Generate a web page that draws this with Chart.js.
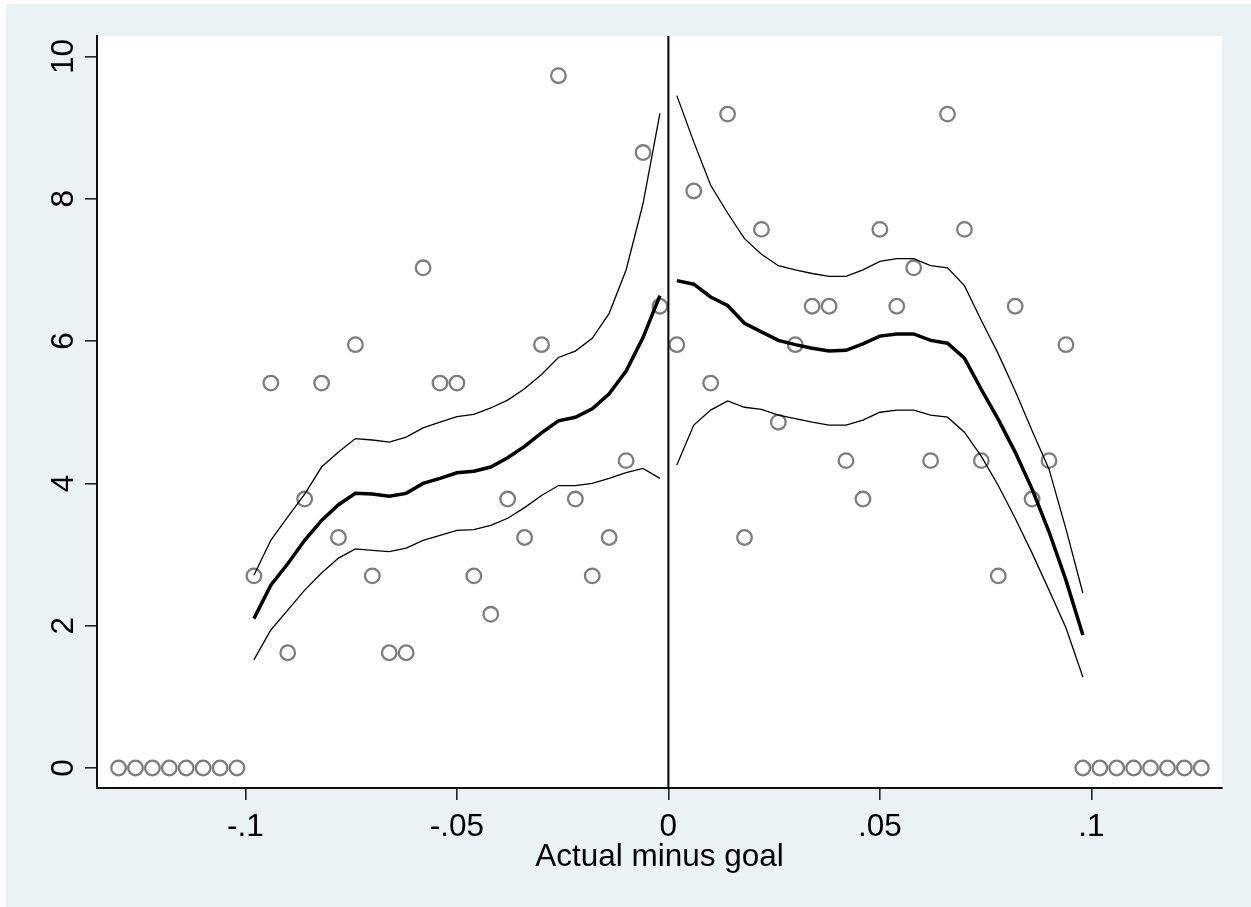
<!DOCTYPE html>
<html>
<head>
<meta charset="utf-8">
<script src="https://cdn.jsdelivr.net/npm/chart.js@4.4.1/dist/chart.umd.min.js"></script>
<style>
html,body{margin:0;padding:0;background:#ffffff;}
canvas{display:block;}
</style>
</head>
<body>
<canvas id="c" width="1251" height="907"></canvas>
<script>
// ---- data ----
const scatterLeftX = [-0.098,-0.094,-0.090,-0.086,-0.082,-0.078,-0.074,-0.070,-0.066,-0.062,-0.058,-0.054,-0.050,-0.046,-0.042,-0.038,-0.034,-0.030,-0.026,-0.022,-0.018,-0.014,-0.010,-0.006,-0.002];
const scatterLeftY = [2.70,5.41,1.62,3.78,5.41,3.24,5.95,2.70,1.62,1.62,7.03,5.41,5.41,2.70,2.16,3.78,3.24,5.95,9.73,3.78,2.70,3.24,4.32,8.65,6.49];
const scatterRightX = [0.002,0.006,0.010,0.014,0.018,0.022,0.026,0.030,0.034,0.038,0.042,0.046,0.050,0.054,0.058,0.062,0.066,0.070,0.074,0.078,0.082,0.086,0.090,0.094];
const scatterRightY = [5.95,8.11,5.41,9.19,3.24,7.57,4.86,5.95,6.49,6.49,4.32,3.78,7.57,6.49,7.03,4.32,9.19,7.57,4.32,2.70,6.49,3.78,4.32,5.95];
const zeroLeftX = [-0.130,-0.126,-0.122,-0.118,-0.114,-0.110,-0.106,-0.102];
const zeroLeftY = [0,0,0,0,0,0,0,0];
const zeroRightX = [0.098,0.102,0.106,0.110,0.114,0.118,0.122,0.126];
const zeroRightY = [0,0,0,0,0,0,0,0];

const fitLeftX = [-0.098,-0.094,-0.090,-0.086,-0.082,-0.078,-0.074,-0.070,-0.066,-0.062,-0.058,-0.054,-0.050,-0.046,-0.042,-0.038,-0.034,-0.030,-0.026,-0.022,-0.018,-0.014,-0.010,-0.006,-0.002];
const fitLeftMean  = [2.10,2.57,2.87,3.20,3.48,3.70,3.86,3.85,3.82,3.86,4.00,4.07,4.15,4.17,4.23,4.36,4.52,4.71,4.88,4.93,5.05,5.26,5.58,6.05,6.64];
const fitLeftUpper = [2.71,3.20,3.53,3.85,4.23,4.44,4.63,4.61,4.58,4.65,4.78,4.86,4.94,4.97,5.06,5.17,5.33,5.53,5.77,5.86,6.04,6.39,7.00,7.93,9.20];
const fitLeftLower = [1.52,1.94,2.22,2.50,2.74,2.95,3.08,3.06,3.04,3.09,3.20,3.27,3.34,3.35,3.41,3.51,3.66,3.83,3.97,3.97,4.00,4.07,4.15,4.21,4.07];

const fitRightX = [0.002,0.006,0.010,0.014,0.018,0.022,0.026,0.030,0.034,0.038,0.042,0.046,0.050,0.054,0.058,0.062,0.066,0.070,0.074,0.078,0.082,0.086,0.090,0.094,0.098];
const fitRightMean  = [6.85,6.80,6.62,6.50,6.25,6.13,6.01,5.95,5.90,5.86,5.87,5.96,6.07,6.10,6.10,6.01,5.97,5.76,5.32,4.90,4.44,3.92,3.32,2.64,1.87];
const fitRightUpper = [9.45,8.80,8.19,7.80,7.44,7.22,7.06,7.00,6.95,6.91,6.91,7.00,7.12,7.16,7.16,7.06,7.03,6.78,6.29,5.82,5.30,4.74,4.20,3.36,2.46];
const fitRightLower = [4.26,4.82,5.03,5.16,5.07,5.04,4.96,4.91,4.86,4.82,4.82,4.89,5.00,5.03,5.03,4.96,4.93,4.72,4.38,3.97,3.51,3.02,2.50,1.97,1.28];

const xTickValues = [-0.1,-0.05,0,0.05,0.1];
const xTickLabels = ['-.1','-.05','0','.05','.1'];
const yTickValues = [0,2,4,6,8,10];
const yTickLabels = ['0','2','4','6','8','10'];
const xTitle = 'Actual minus goal';

// ---- helpers ----
const pts = (xs, ys) => xs.map((x, i) => ({x: x, y: ys[i]}));
const FONT = '"Liberation Sans", Arial, Helvetica, sans-serif';
const FSIZE = 31.5;

const lineDs = (xs, ys, w) => ({
  type: 'line', data: pts(xs, ys), borderColor: '#000000', borderWidth: w,
  pointRadius: 0, fill: false, tension: 0, order: 1
});
const markerDs = (xs, ys) => ({
  type: 'scatter', data: pts(xs, ys), pointStyle: 'circle', pointRadius: 7.3,
  pointBorderWidth: 2.3, pointBorderColor: 'rgb(125,125,125)', pointBackgroundColor: 'rgba(0,0,0,0)',
  order: 5
});

const bgPlugin = {
  id: 'bg',
  beforeDraw(chart) {
    const ctx = chart.ctx, a = chart.chartArea;
    ctx.save();
    ctx.fillStyle = '#ffffff';
    ctx.fillRect(0, 0, chart.width, chart.height);
    ctx.fillStyle = 'rgb(234,242,243)';
    ctx.fillRect(6, 4, chart.width - 6, chart.height - 4);
    ctx.fillStyle = '#ffffff';
    ctx.fillRect(a.left, a.top, a.right - a.left, a.bottom - a.top);
    ctx.restore();
  },
  afterDatasetsDraw(chart) {
    const ctx = chart.ctx, a = chart.chartArea;
    const x0 = chart.scales.x.getPixelForValue(0);
    ctx.save();
    ctx.strokeStyle = '#000000';
    ctx.lineWidth = 2;
    ctx.beginPath();
    ctx.moveTo(x0, a.top);
    ctx.lineTo(x0, a.bottom);
    ctx.stroke();
    ctx.restore();
  },
  afterDraw(chart) {
    const ctx = chart.ctx;
    const ys = chart.scales.y;
    ctx.save();
    ctx.fillStyle = '#000000';
    ctx.font = FSIZE + 'px ' + FONT;
    ctx.textAlign = 'center';
    ctx.textBaseline = 'alphabetic';
    yTickValues.forEach((v, i) => {
      const py = ys.getPixelForValue(v);
      ctx.save();
      ctx.translate(73, py);
      ctx.rotate(-Math.PI / 2);
      ctx.fillText(yTickLabels[i], 0, 0);
      ctx.restore();
    });
    ctx.restore();
  }
};

new Chart(document.getElementById('c'), {
  data: {
    datasets: [
      lineDs(fitLeftX, fitLeftMean, 3.5),
      lineDs(fitLeftX, fitLeftUpper, 1.3),
      lineDs(fitLeftX, fitLeftLower, 1.3),
      lineDs(fitRightX, fitRightMean, 3.5),
      lineDs(fitRightX, fitRightUpper, 1.3),
      lineDs(fitRightX, fitRightLower, 1.3),
      markerDs(scatterLeftX, scatterLeftY),
      markerDs(scatterRightX, scatterRightY),
      markerDs(zeroLeftX, zeroLeftY),
      markerDs(zeroRightX, zeroRightY)
    ]
  },
  options: {
    responsive: false,
    animation: false,
    devicePixelRatio: 1,
    layout: {padding: {left: 0, top: 36, right: 29, bottom: 0}},
    plugins: {legend: {display: false}, tooltip: {enabled: false}},
    scales: {
      x: {
        type: 'linear', position: 'bottom',
        min: -0.1351, max: 0.1309,
        afterBuildTicks(s) { s.ticks = xTickValues.map(v => ({value: v})); },
        afterFit(s) { s.height = 119; },
        grid: {display: true, drawOnChartArea: false, drawTicks: true, tickLength: 12, color: '#222222', lineWidth: 1.6},
        border: {display: true, color: '#111111', width: 2},
        ticks: {
          autoSkip: false, maxRotation: 0, minRotation: 0, padding: 8,
          color: '#000000', font: {family: FONT, size: FSIZE},
          callback: (v, i) => xTickLabels[i]
        },
        title: {display: true, text: xTitle, color: '#000000', font: {family: FONT, size: FSIZE}, padding: {top: 0, bottom: 31}}
      },
      y: {
        type: 'linear', position: 'left',
        min: -0.281, max: 10.288,
        afterBuildTicks(s) { s.ticks = yTickValues.map(v => ({value: v})); },
        afterFit(s) { s.width = 97; },
        grid: {display: true, drawOnChartArea: false, drawTicks: true, tickLength: 12, color: '#222222', lineWidth: 1.6},
        border: {display: true, color: '#111111', width: 2},
        ticks: {display: false}
      }
    }
  },
  plugins: [bgPlugin]
});
</script>
</body>
</html>
